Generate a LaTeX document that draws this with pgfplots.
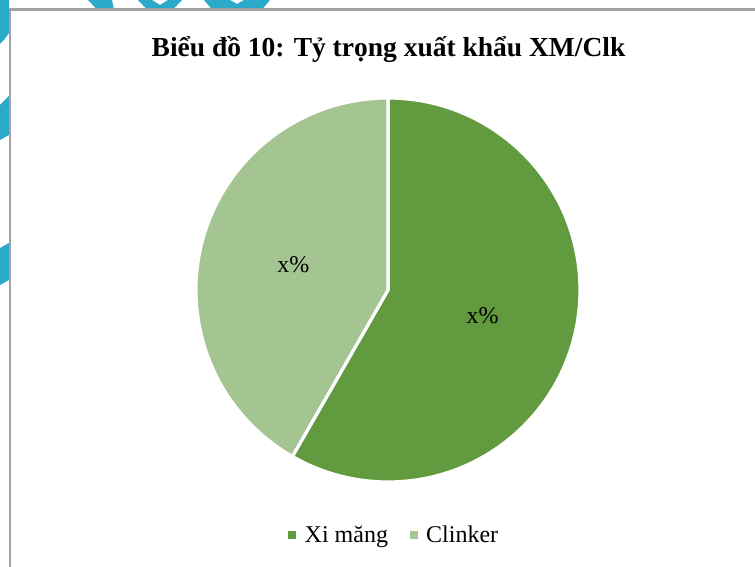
\documentclass[border=0pt]{standalone}
\usepackage{pgfplots}
\usepackage{pgfplotstable}
\pgfplotsset{compat=1.18}
\usetikzlibrary{calc}
\usepackage{fontspec}
\setmainfont{Liberation Serif}

\definecolor{ximang}{HTML}{629B3F}
\definecolor{clinker}{HTML}{A4C592}
\definecolor{deco}{HTML}{2BA9C8}
\definecolor{khung}{HTML}{A3A3A3}

% ty trong (%), doc tu hinh
\pgfplotstableread{
ten value
Ximang 58.3
Clinker 41.7
}\tytrong

\begin{document}
\begin{tikzpicture}
\pgfplotstablegetelem{0}{value}\of\tytrong \let\vXM\pgfplotsretval
\pgfplotstablegetelem{1}{value}\of\tytrong \let\vCL\pgfplotsretval
\pgfmathsetmacro\tong{\vXM+\vCL}
\pgfmathsetmacro\gocXM{90-\vXM/\tong*360}
\pgfmathsetmacro\giuaXM{90-\vXM/\tong*180}
\pgfmathsetmacro\giuaCL{\gocXM-\vCL/\tong*180}
\begin{axis}[
  width=755pt, height=567pt, scale only axis,
  xmin=0, xmax=755, ymin=0, ymax=567,
  hide axis, clip=true,
]
\path (axis cs:0,0) rectangle (axis cs:755,567);
% manh trang tri nen
\fill[deco] (axis cs:0,567) -- (axis cs:9,567) -- (axis cs:9,534) -- (axis cs:4,527) -- (axis cs:0,523) -- cycle;
\fill[deco] (axis cs:88,567) -- (axis cs:112,567) -- (axis cs:114,557.5) -- (axis cs:97,557.5) -- cycle;
\fill[deco] (axis cs:138,567) -- (axis cs:152,567) -- (axis cs:160,562) -- (axis cs:168,567) -- (axis cs:182,567) -- (axis cs:173,557.5) -- (axis cs:147,557.5) -- cycle;
\fill[deco] (axis cs:204,567) -- (axis cs:230,567) -- (axis cs:237,563) -- (axis cs:244,567) -- (axis cs:270,567) -- (axis cs:262,557.5) -- (axis cs:212,557.5) -- cycle;
\fill[deco] (axis cs:0,462) -- (axis cs:9,471) -- (axis cs:9,432) -- (axis cs:0,427) -- cycle;
\fill[deco] (axis cs:0,319) -- (axis cs:9,324) -- (axis cs:9,287) -- (axis cs:0,282) -- cycle;
% khung
\fill[khung] (axis cs:8.6,0) rectangle (axis cs:11.4,558.6);
\fill[khung] (axis cs:8.6,555.8) rectangle (axis cs:755,558.6);
% tieu de
\node[font=\bfseries\fontsize{27.5}{33}\selectfont, anchor=base, inner sep=0pt]
  at (axis cs:388.5,510) {Biểu đồ 10: Tỷ trọng xuất khẩu XM/Clk};
% bieu do tron
\filldraw[fill=ximang, draw=white, line width=3.2pt] (axis cs:388,277) -- ++(90:192pt)
  arc[start angle=90, end angle=\gocXM, radius=192pt] -- cycle;
\filldraw[fill=clinker, draw=white, line width=3.2pt] (axis cs:388,277) -- ++(\gocXM:192pt)
  arc[start angle=\gocXM, end angle=-270, radius=192pt] -- cycle;
\node[font=\fontsize{24}{28}\selectfont] at ($(axis cs:388,277)+(\giuaXM:98pt)$) {x\%};
\node[font=\fontsize{24}{28}\selectfont] at ($(axis cs:388,277)+(\giuaCL:98pt)$) {x\%};
% chu giai
\fill[ximang] (axis cs:288,27.5) rectangle (axis cs:296,35.5);
\node[font=\fontsize{24}{28}\selectfont, anchor=base west, inner sep=0pt] at (axis cs:304.5,24) {Xi măng};
\fill[clinker] (axis cs:410,27.5) rectangle (axis cs:418,35.5);
\node[font=\fontsize{24}{28}\selectfont, anchor=base west, inner sep=0pt] at (axis cs:426,24) {Clinker};
\end{axis}
\end{tikzpicture}
\end{document}
